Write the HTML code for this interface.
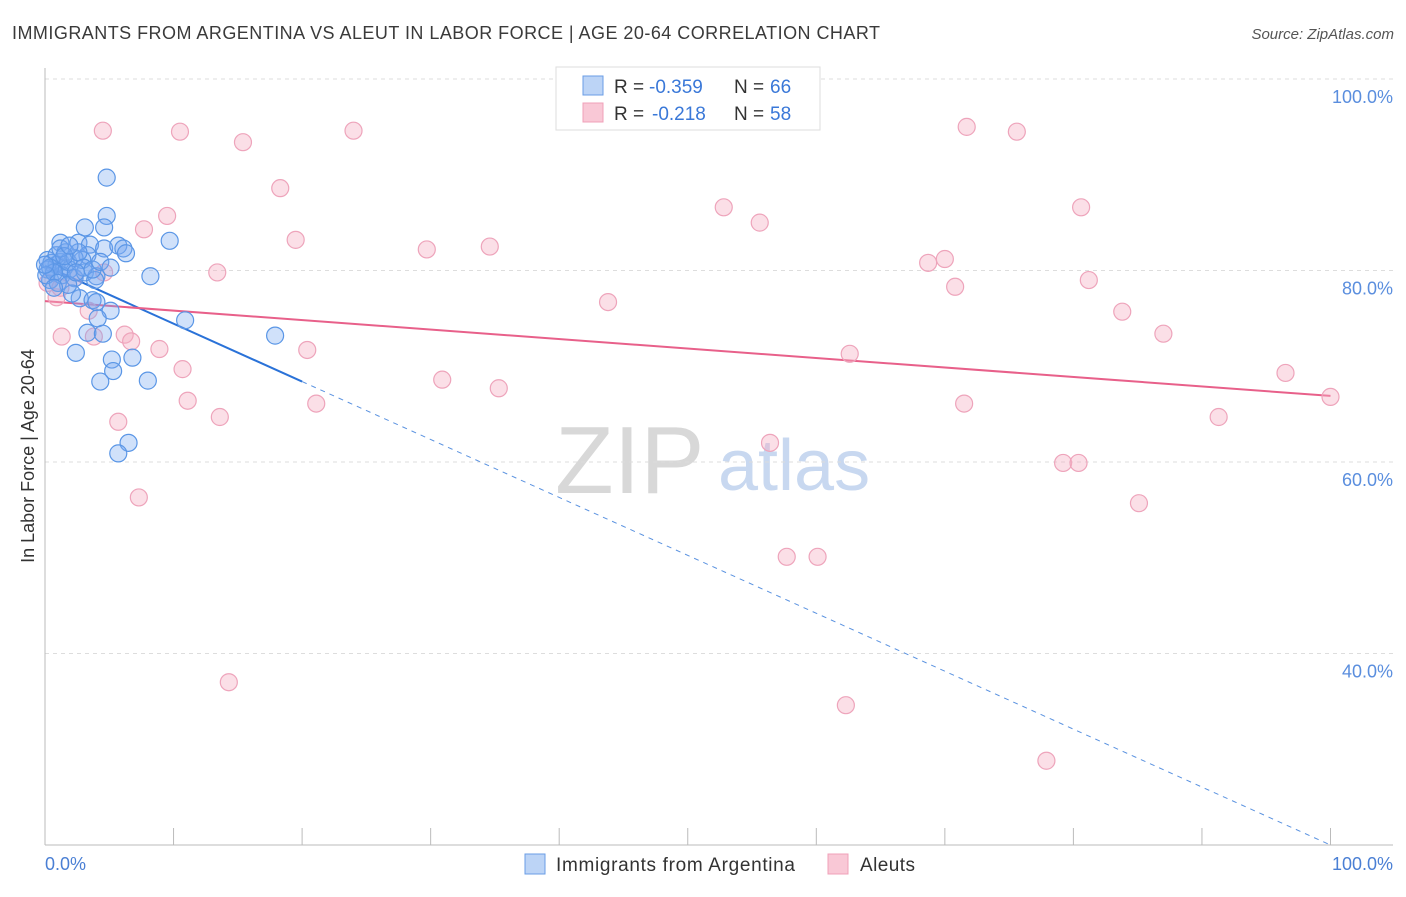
<!DOCTYPE html>
<html><head><meta charset="utf-8"><style>
body{margin:0;background:#fff;font-family:"Liberation Sans",sans-serif;}
svg text{font-family:"Liberation Sans",sans-serif;}
</style></head><body>
<svg id="chart" width="1406" height="892" xmlns="http://www.w3.org/2000/svg">
<text x="12" y="39" font-size="18" fill="#3a3a3a" textLength="868" lengthAdjust="spacing">IMMIGRANTS FROM ARGENTINA VS ALEUT IN LABOR FORCE | AGE 20-64 CORRELATION CHART</text>
<text x="1394" y="39" font-size="15" fill="#555" text-anchor="end" font-style="italic">Source: ZipAtlas.com</text>
<g>
<text x="555" y="493" font-size="96" fill="#d8d8d8" font-family="Liberation Serif, serif">ZIP</text>
<text x="718" y="490" font-size="72" fill="#c8d8f0">atlas</text>
</g>
<g id="grid"></g>
<g id="axes"></g>
<g id="lines"></g>
<g id="pts"></g>
<text transform="translate(34,456) rotate(-90)" font-size="18" fill="#333" text-anchor="middle">In Labor Force | Age 20-64</text>
<text x="45" y="870" font-size="18" fill="#4a7fd4">0.0%</text>
<text x="1393" y="870" font-size="18" fill="#4a7fd4" text-anchor="end">100.0%</text>
<g>
<rect x="556" y="67" width="264" height="63" fill="#fff" stroke="#ddd"/>
<rect x="583" y="76" width="20" height="19" fill="#bcd4f6" stroke="#6a9de6"/>
<rect x="583" y="103" width="20" height="19" fill="#f9c8d6" stroke="#f0a0b8"/>
<text x="614" y="93" font-size="19" fill="#333">R =</text>
<text x="649" y="93" font-size="19" fill="#3a78d8">-0.359</text>
<text x="734" y="93" font-size="19" fill="#333">N =</text>
<text x="770" y="93" font-size="19" fill="#3a78d8">66</text>
<text x="614" y="120" font-size="19" fill="#333">R =</text>
<text x="652" y="120" font-size="19" fill="#3a78d8">-0.218</text>
<text x="734" y="120" font-size="19" fill="#333">N =</text>
<text x="770" y="120" font-size="19" fill="#3a78d8">58</text>
</g>
<g>
<rect x="525" y="854" width="20" height="20" fill="#bcd4f6" stroke="#6a9de6"/>
<text x="556" y="871" font-size="19" fill="#333" textLength="239" lengthAdjust="spacing">Immigrants from Argentina</text>
<rect x="828" y="854" width="20" height="20" fill="#f9c8d6" stroke="#f0a0b8"/>
<text x="860" y="871" font-size="19" fill="#333" textLength="55" lengthAdjust="spacing">Aleuts</text>
</g>
</svg>
<script>
const blueX=[4.8,4.8,3.1,4.6,9.7,1.2,2.6,3.5,4.6,5.7,6.1,6.3,8.2,0.2,0.5,0.9,1.2,1.5,1.9,0.2,0.4,1.3,2.3,3.1,4.0,2.7,3.7,4.0,5.1,4.1,3.3,4.5,2.4,5.2,6.8,5.3,8.0,4.3,10.9,17.9,6.5,5.7,2.1,3.9,0.9,1.6,0.4,0.7,1.8,3.3,1.2,2.9,0.1,1.0,2.3,2.6,1.5,0.0,3.0,3.7,1.9,4.3,5.1,1.8,2.4,0.7];
const blueY=[89.7,85.7,84.5,84.5,83.1,82.9,82.9,82.7,82.3,82.6,82.3,81.8,79.4,81.1,80.8,80.6,80.9,80.3,80.1,80.1,79.0,79.5,79.2,79.8,79.4,77.1,76.9,76.7,75.8,75.0,73.5,73.4,71.4,70.7,70.9,69.5,68.5,68.4,74.8,73.2,62.0,60.9,77.6,79.0,81.6,81.9,80.3,79.8,80.9,81.6,82.3,81.1,79.5,78.7,81.3,81.9,81.5,80.6,80.3,80.1,82.6,80.9,80.3,78.5,79.8,78.2];
const pinkX=[4.5,10.5,15.4,24.0,18.3,9.5,7.7,19.5,29.7,34.6,13.4,4.6,0.2,0.9,3.4,6.2,1.3,6.7,8.9,3.8,20.4,10.7,30.9,35.3,11.1,13.6,21.1,5.7,7.3,14.3,52.8,55.6,43.8,56.4,57.7,60.1,62.6,62.3,68.7,70.0,70.8,71.7,75.6,71.5,80.6,81.2,79.2,80.4,83.8,87.0,85.1,91.3,77.9,96.5,100,2.3,1.2];
const pinkY=[94.6,94.5,93.4,94.6,88.6,85.7,84.3,83.2,82.2,82.5,79.8,79.8,78.7,77.2,75.8,73.3,73.1,72.6,71.8,73.1,71.7,69.7,68.6,67.7,66.4,64.7,66.1,64.2,56.3,37.0,86.6,85.0,76.7,62.0,50.1,50.1,71.3,34.6,80.8,81.2,78.3,95.0,94.5,66.1,86.6,79.0,59.9,59.9,75.7,73.4,55.7,64.7,28.8,69.3,66.8,79.2,78.2];
const yTicks=[100,80,60,40];
const yTickLabels=["100.0%","80.0%","60.0%","40.0%"];
const xTicks=[0,10,20,30,40,50,60,70,80,90,100];
const blueLine=[80.5,20.0]; const blueSolidEnd=20;
const pinkLine=[76.8,66.9];
const NS="http://www.w3.org/2000/svg";
const sx=v=>45+v*12.855, sy=v=>79+(100-v)*9.575;
function mk(tag,attrs,parent){const e=document.createElementNS(NS,tag);for(const k in attrs)e.setAttribute(k,attrs[k]);document.getElementById(parent).appendChild(e);return e;}
yTicks.forEach((t,i)=>{
 const l=mk('line',{x1:45,x2:1393,y1:sy(t),y2:sy(t),stroke:'#ddd','stroke-dasharray':'4,4'},'grid');
 
 
 const tx=mk('text',{x:1393,y:sy(t)+24,'font-size':18,fill:'#5a8ede','text-anchor':'end'},'grid');
 tx.textContent=yTickLabels[i];
 
 
});
let a=mk('line',{x1:45,x2:45,y1:68,y2:845,stroke:'#bbb'},'axes');


a=mk('line',{x1:45,x2:1393,y1:845,y2:845,stroke:'#bbb'},'axes');


xTicks.forEach(t=>{const l=mk('line',{x1:sx(t),x2:sx(t),y1:828,y2:845,stroke:'#bbb'},'axes');
 
 });
const bAt=x=>blueLine[0]+(blueLine[1]-blueLine[0])*x/100;
const pAt=x=>pinkLine[0]+(pinkLine[1]-pinkLine[0])*x/100;
let ln=mk('line',{x1:sx(0),y1:sy(bAt(0)),x2:sx(blueSolidEnd),y2:sy(bAt(blueSolidEnd)),stroke:'#2a72d8','stroke-width':2},'lines');


ln=mk('line',{x1:sx(blueSolidEnd),y1:sy(bAt(blueSolidEnd)),x2:sx(100),y2:sy(bAt(100)),stroke:'#5a92e0','stroke-width':1,'stroke-dasharray':'5,5'},'lines');


ln=mk('line',{x1:sx(0),y1:sy(pAt(0)),x2:sx(100),y2:sy(pAt(100)),stroke:'#e8608a','stroke-width':2},'lines');


pinkX.forEach((x,i)=>{const c=mk('circle',{cx:sx(x),cy:sy(pinkY[i]),r:8.5,fill:'rgba(246,176,196,0.4)',stroke:'#eea4bb','stroke-width':1.2},'pts');
 
 });
blueX.forEach((x,i)=>{const c=mk('circle',{cx:sx(x),cy:sy(blueY[i]),r:8.5,fill:'rgba(120,170,240,0.35)',stroke:'#5a96e6','stroke-width':1.2},'pts');
 
 });
</script>
</body></html>
